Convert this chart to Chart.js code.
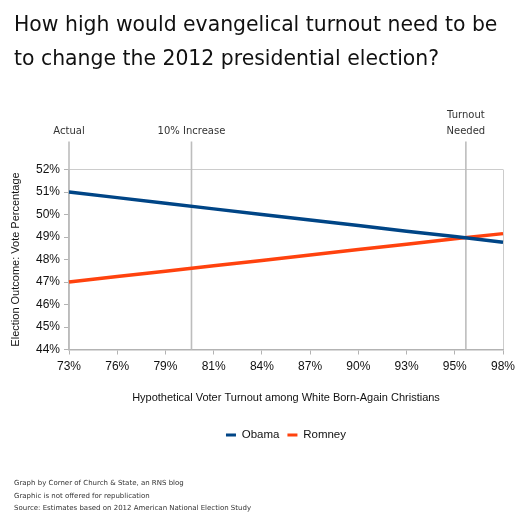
<!DOCTYPE html>
<html>
<head>
<meta charset="utf-8">
<script src="https://cdn.jsdelivr.net/npm/chart.js@4.4.1/dist/chart.umd.min.js"></script>
<style>
html, body { margin: 0; padding: 0; background: #fff; }
#wrap { width: 525px; height: 525px; }
</style>
</head>
<body>
<div id="wrap"><canvas id="c" width="525" height="525"></canvas></div>
<script>
// ---- data ----
const categories = ['73%', '76%', '79%', '81%', '84%', '87%', '90%', '93%', '95%', '98%'];
const obama  = [51.0, 50.75, 50.5, 50.25, 50.0, 49.76, 49.51, 49.26, 49.02, 48.77];
const romney = [47.0, 47.24, 47.48, 47.72, 47.96, 48.2, 48.44, 48.68, 48.92, 49.15];
const seriesNames = ['Obama', 'Romney'];
const yMin = 44, yMax = 52, yStep = 1;
const markerLabels = [['Actual'], ['10% Increase'], ['Turnout', 'Needed']];
const markerPositions = [0, 2.54, 8.23];   // in category-index units
const titleLines = ['How high would evangelical turnout need to be', 'to change the 2012 presidential election?'];
const footerLines = ['Graph by Corner of Church & State, an RNS blog', 'Graphic is not offered for republication', 'Source: Estimates based on 2012 American National Election Study'];
const xTitle = 'Hypothetical Voter Turnout among White Born-Again Christians';
const yTitle = 'Election Outcome: Vote Percentage';

const markerPlugin = {
  id: 'markers',
  beforeDatasetsDraw(chart) {
    const ctx = chart.ctx, xs = chart.scales.x, area = chart.chartArea;
    ctx.save();
    ctx.strokeStyle = '#bdbdbd';
    ctx.lineWidth = 1.6;
    markerPositions.forEach(p => {
      const x = xs.getPixelForValue(p);
      ctx.beginPath();
      ctx.moveTo(x, area.bottom);
      ctx.lineTo(x, area.top - 28);
      ctx.stroke();
    });
    ctx.restore();
  },
  afterDraw(chart) {
    const ctx = chart.ctx, xs = chart.scales.x, area = chart.chartArea;
    ctx.save();
    ctx.fillStyle = '#333';
    ctx.font = '10px "DejaVu Sans"';
    ctx.textAlign = 'center';
    ctx.textBaseline = 'middle';
    markerPositions.forEach((p, i) => {
      const x = xs.getPixelForValue(p);
      const lines = markerLabels[i];
      lines.forEach((t, j) => {
        const y = area.top - 38 - (lines.length - 1 - j) * 16;
        ctx.fillText(t, x, y);
      });
    });
    ctx.restore();
  }
};

const baseGen = Chart.defaults.plugins.legend.labels.generateLabels;

new Chart(document.getElementById('c'), {
  type: 'line',
  data: {
    labels: categories,
    datasets: [
      { label: seriesNames[0], data: obama, borderColor: '#004586', backgroundColor: '#004586', borderWidth: 3.5, pointRadius: 0, tension: 0 },
      { label: seriesNames[1], data: romney, borderColor: '#ff420e', backgroundColor: '#ff420e', borderWidth: 3.5, pointRadius: 0, tension: 0 }
    ]
  },
  plugins: [markerPlugin],
  options: {
    responsive: false,
    animation: false,
    devicePixelRatio: 1,
    layout: { padding: { left: 14, right: 22, top: 0, bottom: 0 } },
    plugins: {
      title: {
        display: true, text: titleLines, align: 'start', color: '#111',
        font: { family: 'DejaVu Sans', size: 20.4, weight: 'normal', lineHeight: '34px' },
        padding: { top: 9, bottom: 92.5 }
      },
      subtitle: {
        display: true, position: 'bottom', text: footerLines, align: 'start', color: '#333',
        font: { family: 'DejaVu Sans', size: 7, weight: 'normal', lineHeight: '12.5px' },
        padding: { top: 26.5, bottom: 10.25 }
      },
      legend: {
        position: 'bottom', fullSize: false,
        labels: {
          boxWidth: 10, boxHeight: 3, padding: 8, color: '#111',
          font: { family: 'Liberation Sans', size: 11.5 },
          generateLabels: (chart) => baseGen(chart).map(l => Object.assign(l, { lineWidth: 0 }))
        }
      },
      tooltip: { enabled: false }
    },
    scales: {
      x: {
        afterFit: (s) => { s.height = 71.75; },
        grid: {
          color: (c) => (c.index === categories.length - 1 ? '#cccccc' : 'rgba(0,0,0,0)'),
          tickColor: '#b3b3b3', tickLength: 5, lineWidth: 1
        },
        border: { color: '#b3b3b3', width: 1.5 },
        ticks: { autoSkip: false, maxRotation: 0, padding: 5, color: '#111', font: { family: 'Liberation Sans', size: 12 } },
        title: { display: true, text: xTitle, color: '#111', font: { family: 'Liberation Sans', size: 11 }, padding: { top: 0, bottom: 16.65 } }
      },
      y: {
        min: yMin, max: yMax,
        afterFit: (s) => { s.width = 55; },
        grid: {
          color: (c) => (c.tick && c.tick.value === yMax ? '#cccccc' : 'rgba(0,0,0,0)'),
          tickColor: '#b3b3b3', tickLength: 5, lineWidth: 1
        },
        border: { color: '#b3b3b3', width: 1.5 },
        ticks: { stepSize: yStep, padding: 4, color: '#111', font: { family: 'Liberation Sans', size: 12 }, callback: (v) => v + '%' },
        title: { display: true, text: yTitle, color: '#111', font: { family: 'Liberation Sans', size: 11 }, padding: { top: -5, bottom: 0 } }
      }
    }
  }
});
</script>
</body>
</html>
